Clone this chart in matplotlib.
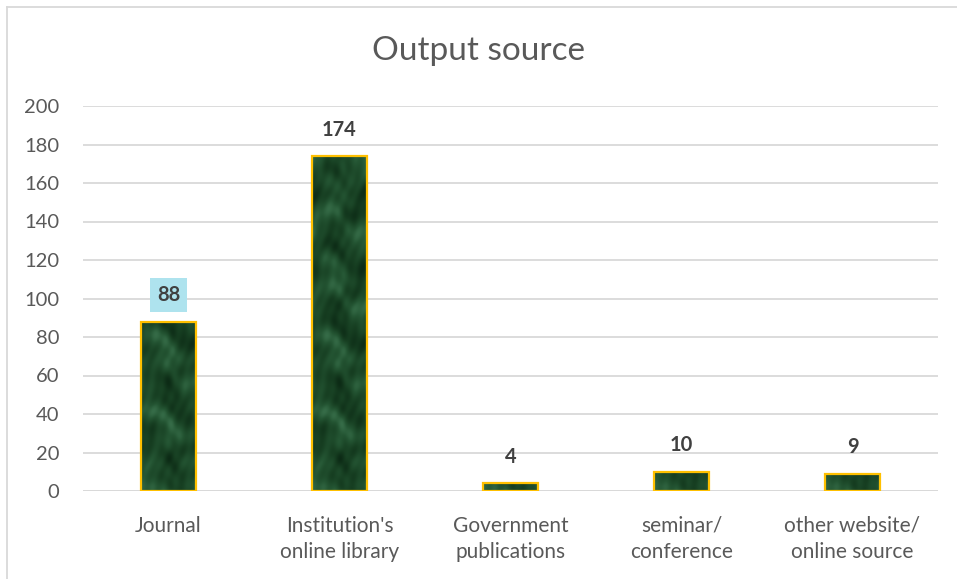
import matplotlib
matplotlib.use("Agg")
import matplotlib.pyplot as plt
import numpy as np
from matplotlib.lines import Line2D
from matplotlib.colors import LinearSegmentedColormap

categories = ["Journal", "Institution's\nonline library", "Government\npublications",
              "seminar/\nconference", "other website/\nonline source"]
values = [88, 174, 4, 10, 9]
yticks = [0, 20, 40, 60, 80, 100, 120, 140, 160, 180, 200]

plt.rcParams['font.family'] = ['Lato', 'DejaVu Sans']

fig = plt.figure(figsize=(9.57, 5.79), dpi=100)
ax = fig.add_axes([83/957, 1 - 491/579, (938-83)/957, (491-106)/579])

x = np.arange(len(categories))
bars = ax.bar(x, values, width=0.32, color='#1d4a2a', edgecolor='none', zorder=3)

# soft marble-like texture clipped to bars (decorative only)
yy, xx = np.mgrid[0:400, 0:60].astype(float)
tex = (0.40
       + 0.14*np.sin(xx/9.0 + np.sin(yy/13.0)*2.0)
       + 0.12*np.cos(yy/11.0 - np.sin(xx/10.0)*1.6)
       + 0.07*np.sin((xx*0.7 + yy*1.3)/5.5 + np.cos(xx/7.0)*1.5)
       + 0.05*np.cos((xx*1.9 - yy*0.6)/3.7 + np.sin(yy/9.0)))
cmap = LinearSegmentedColormap.from_list('marble', ['#0b2814', '#173f22', '#245533', '#3d7550'])
for b in bars:
    im = ax.imshow(tex, extent=[b.get_x(), b.get_x()+b.get_width(), 0, 200], cmap=cmap,
                   aspect='auto', zorder=3, origin='lower', vmin=0.0, vmax=0.85,
                   interpolation='bilinear')
    im.set_clip_path(b)
for b in bars:
    ax.add_patch(plt.Rectangle((b.get_x(), 0), b.get_width(), b.get_height(), fill=False,
                               edgecolor='#FFC000', linewidth=1.6, zorder=4))

for i, v in enumerate(values):
    kw = dict(ha='center', va='bottom', fontsize=14.5, fontweight='bold', color='#404040', zorder=5)
    if i == 0:
        ax.text(x[i], v + 8.5, str(v), bbox=dict(boxstyle='square,pad=0.35', facecolor='#aee3ee',
                                                edgecolor='none'), **kw)
    else:
        ax.text(x[i], v + 8.5, str(v), **kw)

ax.set_xlim(-0.5, len(categories) - 0.5)
ax.set_ylim(0, 200)
ax.set_yticks(yticks)
ax.set_xticks(x)
ax.set_xticklabels(categories, fontsize=15, color='#595959', linespacing=1.35)
ax.tick_params(axis='y', labelsize=14.5, labelcolor='#595959', length=0, pad=17)
ax.tick_params(axis='x', length=0, pad=18)
ax.grid(axis='y', color='#d9d9d9', linewidth=1.3, zorder=0)
for s in ax.spines.values():
    s.set_visible(False)
ax.axhline(0, color='#d9d9d9', linewidth=1.3, zorder=1)

fig.text(0.5, 1 - 51/579, "Output source", ha='center', va='center', fontsize=24, color='#595959')

fig.add_artist(Line2D([7/957, 7/957], [0, 1 - 7/579], color='#d9d9d9', linewidth=1.3))
fig.add_artist(Line2D([7/957, 1], [1 - 7/579, 1 - 7/579], color='#d9d9d9', linewidth=1.3))

fig.savefig("out.png", dpi=100, facecolor='white')
